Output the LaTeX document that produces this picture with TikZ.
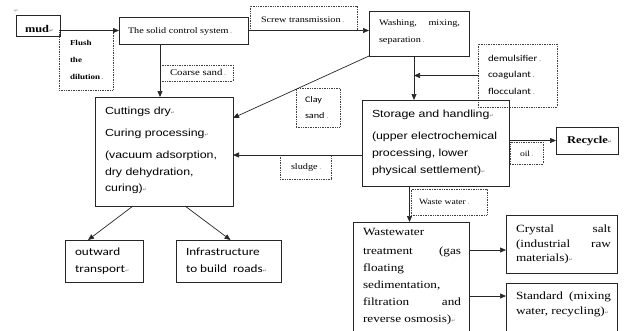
\documentclass[tikz,border=0pt]{standalone}
\usepackage{fontspec}
\setmainfont{Liberation Serif}[FakeStretch=1.2]
\newfontfamily\arialf{Liberation Sans}[FakeStretch=1.2]
\newfontfamily\calf{Carlito}[FakeStretch=1.2]
\newfontfamily\djv{DejaVu Sans}
\usetikzlibrary{arrows.meta}
\newcommand\retm{{\djv\fontsize{5}{5}\selectfont\color{gray}↵}}
\newcommand\dotm{{\color{gray!70}\,.}}
\begin{document}
\begin{tikzpicture}[x=1pt,y=-1pt,
 box/.style={draw=black!85, line width=0.8pt, anchor=north west, inner sep=0pt, outer sep=0pt},
 dbox/.style={draw=black!75, densely dotted, line width=0.7pt, anchor=north west, inner sep=0pt, outer sep=0pt},
 arr/.style={-{Triangle[length=6pt,width=5pt]}, line width=0.7pt, draw=black!85},
 lbl/.style={inner sep=0pt, outer sep=0pt, anchor=west},
 blk/.style={inner sep=0pt, outer sep=0pt, anchor=north west, align=left},
]
\useasboundingbox (0,0) rectangle (624,330);
\clip (0,0) rectangle (624,330);
% boxes
\node[box, minimum width=44pt, minimum height=21pt] (mud) at (16,15) {};
\node[box, minimum width=129pt, minimum height=27pt] (sol) at (119,17) {};
\node[box, minimum width=100pt, minimum height=45pt] (wash) at (369,11) {};
\node[dbox, minimum width=79pt, minimum height=63pt] (dem) at (478,44) {};
\node[dbox, minimum width=107pt, minimum height=24pt] (screw) at (250,6) {};
\node[dbox, minimum width=54pt, minimum height=60pt] (flush) at (59,30) {};
\node[dbox, minimum width=73pt, minimum height=16pt] (coarse) at (160,65) {};
\node[box, minimum width=138pt, minimum height=109pt] (cut) at (95,97) {};
\node[dbox, minimum width=44pt, minimum height=39pt] (clay) at (296,88) {};
\node[box, minimum width=147pt, minimum height=86pt] (sto) at (362,100) {};
\node[box, minimum width=62pt, minimum height=27pt] (rec) at (556,127) {};
\node[dbox, minimum width=33pt, minimum height=22pt] (oil) at (510,142) {};
\node[dbox, minimum width=51pt, minimum height=24pt] (sludge) at (280,155) {};
\node[dbox, minimum width=76pt, minimum height=26pt] (waste) at (411,189) {};
\node[box, minimum width=116pt, minimum height=120pt] (ww) at (353,222) {};
\node[box, minimum width=111pt, minimum height=58pt] (cry) at (506,215) {};
\node[box, minimum width=111pt, minimum height=60pt] (std) at (506,283) {};
\node[box, minimum width=78pt, minimum height=42pt] (out) at (65,240) {};
\node[box, minimum width=105pt, minimum height=42pt] (inf) at (176,240) {};
% connectors
\draw[arr] (sol.west -| mud.east) -- (sol.west);
\draw[arr] (sol.east) -- (sol.east -| wash.west);
\draw[arr] ([xshift=-4pt]cut.north |- sol.south) -- ([xshift=-4pt]cut.north);
\coordinate (wx) at ([xshift=-5pt]wash.south);
\draw[arr] (wx) -- (wx |- sto.north);
\draw[arr] (dem.west) -- (dem.west -| wx);
\draw[arr] (wash.south west) -- ([yshift=-21pt]cut.north east);
\draw[arr] ([yshift=-12pt]sto.west) -- ([yshift=-12pt]sto.west -| cut.east);
\draw[arr] (rec.west -| sto.east) -- (rec.west);
\coordinate (sx) at ([xshift=-26pt]sto.south);
\draw[arr] (sx) -- (sx |- ww.north);
\draw[arr] ([yshift=-6pt]cry.west -| ww.east) -- ([yshift=-6pt]cry.west);
\draw[arr] ([yshift=17pt]std.west -| ww.east) -- ([yshift=17pt]std.west);
\draw[arr] ([xshift=-31pt]cut.south) -- ([xshift=-16pt]out.north);
\draw[arr] ([xshift=21pt]cut.south) -- ([xshift=2pt]inf.north);
% texts
\node[lbl] (tret) at (14,11) {\retm};
\node[lbl, font=\bfseries\fontsize{10.3}{12}\selectfont] (tmud) at (25,29) {mud\retm};
\node[lbl, font=\fontsize{8.5}{10}\selectfont] (tsol) at (128,31) {The solid control system\dotm};
\node[lbl, font=\fontsize{8.5}{10}\selectfont] (tscrew) at (261,20) {Screw transmission\dotm};
\node[blk, font=\fontsize{8.5}{17}\selectfont] (twash) at (379,20) {\makebox[81pt][s]{Washing, mixing,}\\separation\dotm};
\node[blk, font=\bfseries\fontsize{7.5}{17}\selectfont] (tflush) at (70,40) {Flush\\the\\dilution\dotm};
\node[lbl, font=\fontsize{9}{10}\selectfont] (tcoarse) at (170,72) {Coarse sand\dotm};
\node[blk, font=\calf\fontsize{9}{16.5}\selectfont] (tdem) at (488,55) {demulsifier\dotm\\coagulant\dotm\\flocculant\dotm};
\node[blk, font=\arialf\fontsize{10.3}{16.5}\selectfont] (tcut) at (105,107.5) {Cuttings dry\retm\\[5.5pt]Curing processing\retm\\[5.5pt](vacuum adsorption,\\dry dehydration,\\curing)\retm};
\node[blk, font=\calf\fontsize{8.5}{16}\selectfont] (tclay) at (305,97) {Clay\\sand\dotm};
\node[blk, font=\arialf\fontsize{10.3}{17}\selectfont] (tsto) at (372,110.5) {Storage and handling\retm\\[5pt](upper electrochemical\\processing, lower\\physical settlement)\retm};
\node[lbl, font=\bfseries\fontsize{10.4}{12}\selectfont] (trec) at (567,141) {Recycle\retm};
\node[lbl, font=\fontsize{8}{10}\selectfont] (toil) at (520,154) {oil\dotm};
\node[lbl, font=\fontsize{8.5}{10}\selectfont] (tsludge) at (291,167) {sludge\dotm};
\node[lbl, font=\fontsize{8}{10}\selectfont] (twaste) at (419,202) {Waste water\dotm};
\node[blk, font=\fontsize{11}{17}\selectfont] (tww) at (363,228.5) {Wastewater\\[2pt]\makebox[98pt][s]{treatment (gas}\\floating\\sedimentation,\\\makebox[98pt][s]{filtration and}\\reverse osmosis)\retm};
\node[blk, font=\fontsize{11}{14.5}\selectfont] (tcry) at (516,225) {\makebox[95pt][s]{Crystal salt}\\\makebox[95pt][s]{(industrial raw}\\materials)\retm};
\node[blk, font=\fontsize{11}{14.5}\selectfont] (tstd) at (516,292) {\makebox[95pt][s]{Standard (mixing}\\water, recycling)\retm};
\node[blk, font=\calf\fontsize{11}{17}\selectfont] (tout) at (75,248) {outward\\transport\retm};
\node[blk, font=\calf\fontsize{11}{17}\selectfont] (tinf) at (186,248) {Infrastructure\\to build\ \ roads\retm};
\end{tikzpicture}
\end{document}
